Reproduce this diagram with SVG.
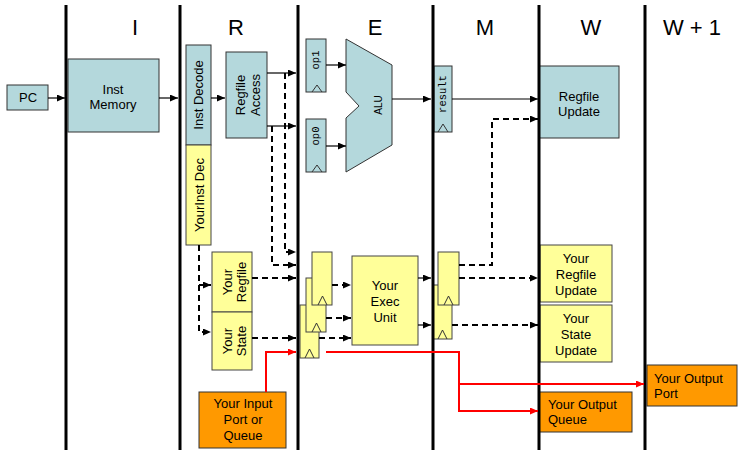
<svg xmlns="http://www.w3.org/2000/svg" width="738" height="450" viewBox="0 0 738 450">
<style>
.teal{fill:#B4D8DC;stroke:#333;stroke-width:1}
.yel{fill:#FFFF99;stroke:#444;stroke-width:1}
.org{fill:#FF9900;stroke:#333;stroke-width:1}
.clk{fill:none;stroke:#333;stroke-width:1}
.stage{stroke:#000;stroke-width:3}
.t{font-family:"Liberation Sans",Arial,sans-serif;font-size:13px;fill:#000}
.m{text-anchor:middle}
.big{font-family:"Liberation Sans",Arial,sans-serif;font-size:22px;fill:#000;text-anchor:middle}
.mono{font-family:"Liberation Mono","Courier New",monospace;font-size:10.5px;fill:#000;text-anchor:middle}
.c{fill:none;stroke:#000;stroke-width:1.2}
.d{fill:none;stroke:#000;stroke-width:2;stroke-dasharray:6 4}
.r{fill:none;stroke:#f00;stroke-width:2}
</style>
<defs>
<marker id="ab" markerUnits="userSpaceOnUse" markerWidth="8" markerHeight="7" refX="8" refY="3.5" orient="auto"><path d="M0,0 L8,3.5 L0,7 z" fill="#000"/></marker>
<marker id="ar" markerUnits="userSpaceOnUse" markerWidth="8" markerHeight="7" refX="8" refY="3.5" orient="auto"><path d="M0,0 L8,3.5 L0,7 z" fill="#f00"/></marker>
</defs>
<rect width="738" height="450" fill="#fff"/>

<g id="stage-labels">
<text class="big" x="135" y="35">I</text>
<text class="big" x="236" y="35">R</text>
<text class="big" x="375" y="35">E</text>
<text class="big" x="485" y="35">M</text>
<text class="big" x="591" y="35">W</text>
<text class="big" x="692" y="35">W + 1</text>
</g>

<g id="pc"><rect class="teal" x="7" y="85" width="41" height="25"/><text class="t m" x="28" y="102">PC</text></g>
<g id="inst-memory"><rect class="teal" x="68" y="59" width="91" height="73"/><text class="t m" x="113" y="94">Inst</text><text class="t m" x="113" y="109">Memory</text></g>
<g id="inst-decode"><rect class="teal" x="186" y="45" width="25" height="100"/><text class="t m" transform="translate(203,95) rotate(-90)">Inst Decode</text></g>
<g id="yourinst-dec"><rect class="yel" x="186" y="145" width="25" height="100"/><text class="t m" transform="translate(204,195) rotate(-90)">YourInst Dec</text></g>
<g id="regfile-access"><rect class="teal" x="226" y="52" width="41" height="86"/><text class="t m" transform="translate(246,95) rotate(-90)"><tspan x="0" y="-1">Regfile</tspan><tspan x="0" y="14">Access</tspan></text></g>
<g id="your-regfile"><rect class="yel" x="212" y="252" width="40" height="60"/><text class="t m" transform="translate(232,282) rotate(-90)"><tspan x="0" y="0">Your</tspan><tspan x="0" y="14">Regfile</tspan></text></g>
<g id="your-state"><rect class="yel" x="212" y="312" width="40" height="58"/><text class="t m" transform="translate(232,341) rotate(-90)"><tspan x="0" y="0">Your</tspan><tspan x="0" y="14">State</tspan></text></g>

<g id="op1"><rect class="teal" x="306" y="39" width="20" height="53"/><polyline class="clk" points="312,92 317,85 322,92"/><text class="mono" transform="translate(319,60) rotate(-90)">op1</text></g>
<g id="op0"><rect class="teal" x="306" y="119" width="20" height="53"/><polyline class="clk" points="312,172 317,165 322,172"/><text class="mono" transform="translate(319,136) rotate(-90)">op0</text></g>
<g id="alu"><polygon class="teal" points="346,39 392,65 392,145 346,172 346,118 359,106 346,92"/><text class="t m" style="font-size:10px" transform="translate(382,105) rotate(-90)">ALU</text></g>
<g id="result"><rect class="teal" x="434" y="66" width="18" height="66"/><polyline class="clk" points="438,132 443,124 448,132"/><text class="mono" transform="translate(446,94) rotate(-90)">result</text></g>
<g id="regfile-update"><rect class="teal" x="539" y="66" width="80" height="72"/><text class="t m" x="579" y="101">Regfile</text><text class="t m" x="579" y="116">Update</text></g>

<g id="reg-c"><rect class="yel" x="300" y="305" width="19" height="53"/><polyline class="clk" points="305,358 309.5,349 314,358"/></g>
<g id="reg-b"><rect class="yel" x="306" y="278" width="20" height="54"/><polyline class="clk" points="312,332 316.5,323 321,332"/></g>
<g id="reg-a"><rect class="yel" x="312" y="252" width="20" height="53"/><polyline class="clk" points="318,305 322.5,296 327,305"/></g>
<g id="your-exec-unit"><rect class="yel" x="352" y="256" width="66" height="89"/><text class="t m" x="385" y="290">Your</text><text class="t m" x="385" y="306">Exec</text><text class="t m" x="385" y="322">Unit</text></g>
<g id="reg-e"><rect class="yel" x="433" y="285" width="19" height="54"/><polyline class="clk" points="438,339 442.5,330 447,339"/></g>
<g id="reg-d"><rect class="yel" x="438" y="252" width="21" height="53"/><polyline class="clk" points="444,305 448.5,296 453,305"/></g>
<g id="your-regfile-update"><rect class="yel" x="540" y="245" width="72" height="57"/><text class="t m" x="576" y="263">Your</text><text class="t m" x="576" y="279">Regfile</text><text class="t m" x="576" y="295">Update</text></g>
<g id="your-state-update"><rect class="yel" x="540" y="305" width="72" height="57"/><text class="t m" x="576" y="323">Your</text><text class="t m" x="576" y="339">State</text><text class="t m" x="576" y="355">Update</text></g>

<g id="your-input-port"><rect class="org" x="199" y="392" width="87" height="56"/><text class="t m" x="243" y="408">Your Input</text><text class="t m" x="243" y="424">Port or</text><text class="t m" x="243" y="440">Queue</text></g>
<g id="your-output-queue"><rect class="org" x="539" y="392" width="93" height="40"/><text class="t" x="548" y="409">Your Output</text><text class="t" x="548" y="424">Queue</text></g>
<g id="your-output-port"><rect class="org" x="647" y="365" width="90" height="41"/><text class="t" x="654" y="383">Your Output</text><text class="t" x="654" y="398">Port</text></g>

<g id="stage-lines">
<line class="stage" x1="66" y1="5" x2="66" y2="450"/>
<line class="stage" x1="180" y1="5" x2="180" y2="450"/>
<line class="stage" x1="298" y1="5" x2="298" y2="450"/>
<line class="stage" x1="433" y1="5" x2="433" y2="450"/>
<line class="stage" x1="539" y1="5" x2="539" y2="450"/>
<line class="stage" x1="645" y1="5" x2="645" y2="450"/>
</g>

<g id="connectors">
<path class="c" marker-end="url(#ab)" d="M48,98 H65"/>
<path class="c" marker-end="url(#ab)" d="M159,98 H178"/>
<path class="c" marker-end="url(#ab)" d="M211,98 H225"/>
<path class="c" marker-end="url(#ab)" d="M267,73 H296"/>
<path class="c" marker-end="url(#ab)" d="M267,126 H296"/>
<path class="c" marker-end="url(#ab)" d="M326,65 H346"/>
<path class="c" marker-end="url(#ab)" d="M326,146 H346"/>
<path class="c" marker-end="url(#ab)" d="M392,99 H431"/>
<path class="c" marker-end="url(#ab)" d="M452,99 H538"/>
<path class="c" marker-end="url(#ab)" d="M418,278 H431"/>
<path class="c" marker-end="url(#ab)" d="M418,325 H431"/>

<path class="d" marker-end="url(#ab)" d="M285,73 V252 H296"/>
<path class="d" marker-end="url(#ab)" d="M272,126 V265 H296"/>
<path class="d" marker-end="url(#ab)" d="M252,278 H296"/>
<path class="d" marker-end="url(#ab)" d="M252,338 H296"/>
<path class="d" marker-end="url(#ab)" d="M199,245 V332 H211"/>
<path class="d" marker-end="url(#ab)" d="M199,285 H211"/>
<path class="d" marker-end="url(#ab)" d="M332,285 H351"/>
<path class="d" marker-end="url(#ab)" d="M326,318 H351"/>
<path class="d" marker-end="url(#ab)" d="M319,338 H351"/>
<path class="d" marker-end="url(#ab)" d="M459,265 H492 V119 H538"/>
<path class="d" marker-end="url(#ab)" d="M459,278 H538"/>
<path class="d" marker-end="url(#ab)" d="M452,325 H538"/>

<path class="r" marker-end="url(#ar)" d="M266,392 V352 H296"/>
<path class="r" marker-end="url(#ar)" d="M326,352 H459 V411 H538"/>
<path class="r" marker-end="url(#ar)" d="M459,384 H644"/>
</g>
</svg>
